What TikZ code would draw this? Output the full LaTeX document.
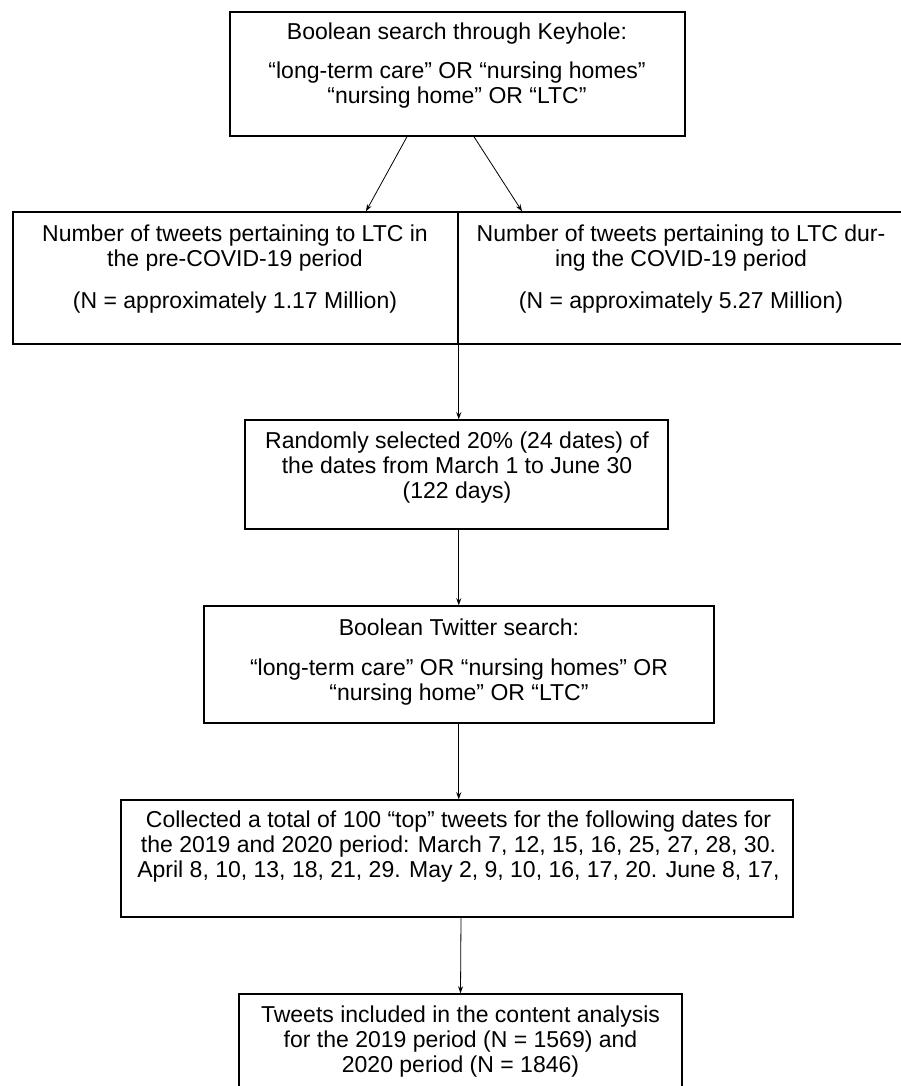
\documentclass[tikz,border=0pt]{standalone}
\usepackage{fontspec}
\setmainfont{Liberation Sans}
\usetikzlibrary{arrows.meta}
\tikzset{
  box/.style={draw, line width=1.5pt, inner sep=0pt},
  txt/.style={align=center, inner sep=0pt, font=\fontsize{23}{25}\selectfont},
  arr/.style={line width=0.8pt, -{Stealth[length=7pt,width=5pt]}}
}
\begin{document}
\begin{tikzpicture}[x=1pt,y=-1pt]
\useasboundingbox (0,0) rectangle (901,1086);
% boxes
\node[box, minimum width=455pt, minimum height=124pt] (b1) at (457.5,74) {};
\node[box, minimum width=445pt, minimum height=132pt] (b2l) at (235.5,278) {};
\node[box, minimum width=447pt, minimum height=132pt] (b2r) at (681.5,278) {};
\node[box, minimum width=423pt, minimum height=109pt] (b3) at (456.5,474.5) {};
\node[box, minimum width=510pt, minimum height=117pt] (b4) at (459,664.5) {};
\node[box, minimum width=672pt, minimum height=117pt] (b5) at (457,858.5) {};
\node[box, minimum width=443pt, minimum height=130pt] (b6) at (460.5,1059) {};
% texts
\node[txt] (t1) at (457,65.5) {Boolean search through Keyhole:\\[14pt]“long-term care” OR “nursing homes”\\“nursing home” OR “LTC”};
\node[txt] (t2l) at (235,269) {Number of tweets pertaining to LTC in\\the pre-COVID-19 period\\[17pt](N = approximately 1.17 Million)};
\node[txt] (t2r) at (681,269) {Number of tweets pertaining to LTC dur-\\ing the COVID-19 period\\[17pt](N = approximately 5.27 Million)};
\node[txt] (t3) at (457,468) {Randomly selected 20\% (24 dates) of\\the dates from March 1 to June 30\\(122 days)};
\node[txt] (t4) at (459,662.5) {Boolean Twitter search:\\[15pt]“long-term care” OR “nursing homes” OR\\“nursing home” OR “LTC”};
\node[txt] (t5) at (458.5,847) {Collected a total of 100 “top” tweets for the following dates for\\the 2019 and 2020 period: March 7, 12, 15, 16, 25, 27, 28, 30.\\April 8, 10, 13, 18, 21, 29. May 2, 9, 10, 16, 17, 20. June 8, 17,};
\node[txt] (t6) at (460.5,1042) {Tweets included in the content analysis\\for the 2019 period (N = 1569) and\\2020 period (N = 1846)};
% connectors
\draw[arr] ([xshift=-50.5pt]b1.south) -- ([xshift=130.5pt]b2l.north);
\draw[arr] ([xshift=16.5pt]b1.south) -- ([xshift=-159.5pt]b2r.north);
\draw[arr] (b2l.south east) -- (b3.north -| b2l.south east);
\draw[arr] (b3.south -| b2l.south east) -- (b4.north -| b2l.south east);
\draw[arr] (b4.south -| b2l.south east) -- (b5.north -| b2l.south east);
\draw[arr] ([xshift=0.5pt]b5.south -| b6.north) -- (b6.north);
\end{tikzpicture}
\end{document}
